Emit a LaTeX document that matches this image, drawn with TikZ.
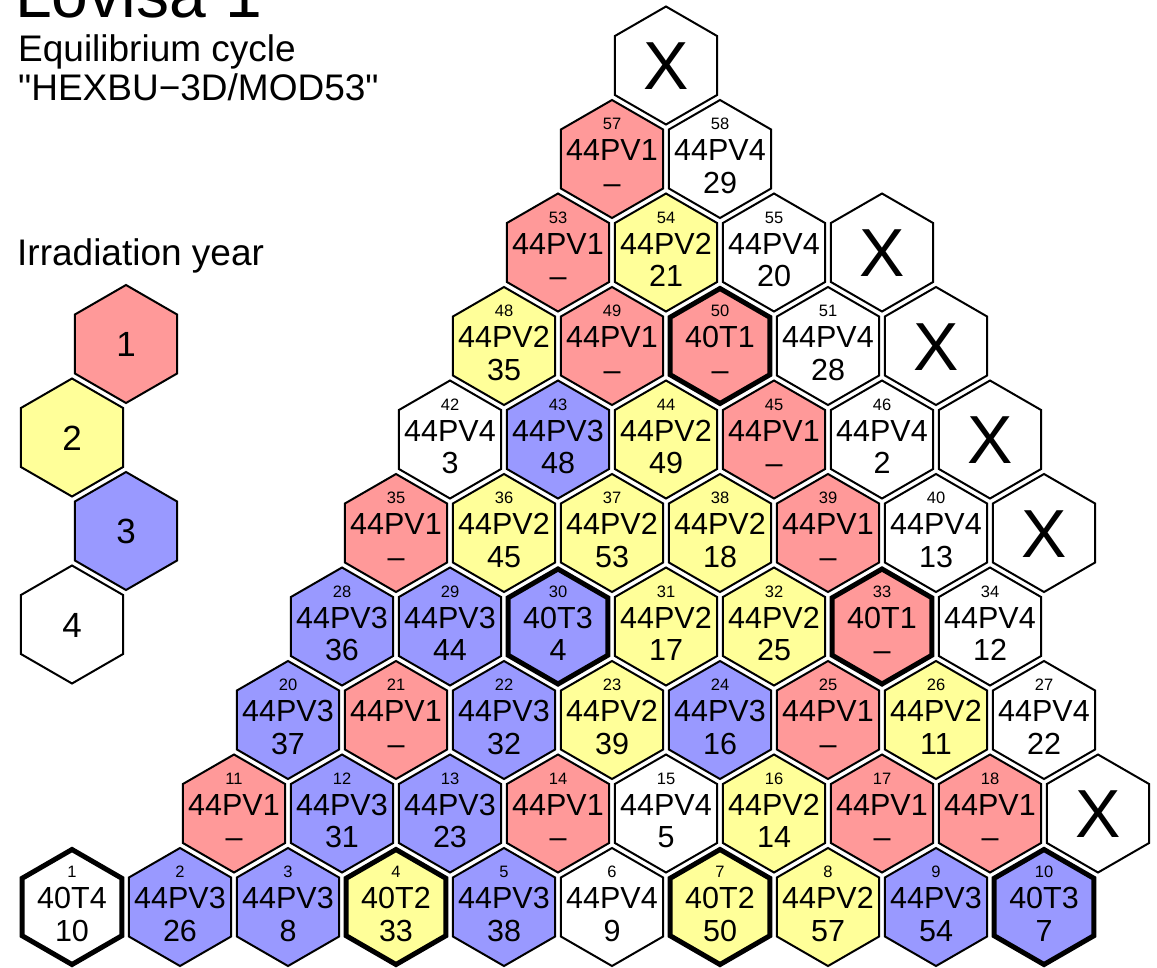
\documentclass[tikz,border=0pt]{standalone}
\usepackage{fontspec}
\setmainfont{Liberation Sans}
\newfontfamily\rawsans{Liberation Sans}
\definecolor{yrone}{HTML}{FF9999}
\definecolor{yrtwo}{HTML}{FFFF99}
\definecolor{yrthree}{HTML}{9999FF}
\definecolor{yrfour}{HTML}{FFFFFF}
\tikzset{
  hexthin/.style={draw=black, line width=2pt, line join=miter},
  hexthick/.style={draw=black, line width=5pt, line join=miter},
  numlbl/.style={font=\fontsize{16.5}{16.5}\selectfont, inner sep=0pt, anchor=base},
  typelbl/.style={font=\fontsize{30.5}{30.5}\selectfont, inner sep=0pt, anchor=base},
  xlbl/.style={font=\fontsize{68}{68}\selectfont, inner sep=0pt, anchor=base},
  leglbl/.style={font=\fontsize{35}{35}\selectfont, inner sep=0pt, anchor=base},
  headlbl/.style={font=\fontsize{37}{37}\selectfont, inner sep=0pt, anchor=base west},
  titlelbl/.style={font=\fontsize{66}{66}\selectfont, inner sep=0pt, anchor=base west},
}
% hexagon outline: x, y, fill, style, radius
\newcommand\hexpath[5]{%
  \filldraw[#4, fill=#3, shift={(#1,#2)}] (90:#5) -- (30:#5) -- (-30:#5) -- (-90:#5) -- (-150:#5) -- (150:#5) -- cycle;}
% fuel cell: name, x, row, colour, thin/thick, number, type, value
\newcommand\fuelcell[8]{%
  \pgfmathsetmacro\cy{907-93.5*#3}%
  \ifx#5t\hexpath{#2}{\cy}{#4}{hexthick}{57.5}\else\hexpath{#2}{\cy}{#4}{hexthin}{59}\fi
  \node[numlbl] (#1n) at (#2,\cy-29.3) {#6};
  \node[typelbl] (#1t) at (#2,\cy+1.7) {#7};
  \node[typelbl] (#1v) at (#2,\cy+34) {#8};}
% empty position: name, x, row
\newcommand\emptycell[3]{%
  \pgfmathsetmacro\cy{907-93.5*#3}%
  \hexpath{#2}{\cy}{yrfour}{hexthin}{59}
  \node[xlbl] (#1) at (#2,\cy+24.3) {X};}
% legend cell: name, x, y, colour, text
\newcommand\legcell[5]{%
  \hexpath{#2}{#3}{#4}{hexthin}{59}
  \node[leglbl] (#1) at (#2,#3+12.6) {#5};}
\begin{document}
\begin{tikzpicture}[x=1pt,y=-1pt]
\useasboundingbox (0,0) rectangle (1157,967);
\clip (0,0) rectangle (1157,967);
\fill[white] (0,0) rectangle (1157,967);
% titles
\node[titlelbl] (title) at (15,17) {Lovisa\hspace{20pt}1};
\node[headlbl] (sub1) at (18,61) {Equilibrium cycle};
\node[headlbl] (sub2) at (18,100) {\rawsans "HEXBU−3D/MOD53"};
\node[headlbl] (legtitle) at (17,265) {Irradiation year};
% legend
\legcell{leg1}{126}{344}{yrone}{1}
\legcell{leg2}{72}{437.5}{yrtwo}{2}
\legcell{leg3}{126}{531}{yrthree}{3}
\legcell{leg4}{72}{624.5}{yrfour}{4}
% row 0
\fuelcell{c1}{72}{0}{yrfour}{t}{1}{40T4}{10}
\fuelcell{c2}{180}{0}{yrthree}{n}{2}{44PV3}{26}
\fuelcell{c3}{288}{0}{yrthree}{n}{3}{44PV3}{8}
\fuelcell{c4}{396}{0}{yrtwo}{t}{4}{40T2}{33}
\fuelcell{c5}{504}{0}{yrthree}{n}{5}{44PV3}{38}
\fuelcell{c6}{612}{0}{yrfour}{n}{6}{44PV4}{9}
\fuelcell{c7}{720}{0}{yrtwo}{t}{7}{40T2}{50}
\fuelcell{c8}{828}{0}{yrtwo}{n}{8}{44PV2}{57}
\fuelcell{c9}{936}{0}{yrthree}{n}{9}{44PV3}{54}
\fuelcell{c10}{1044}{0}{yrthree}{t}{10}{40T3}{7}
% row 1
\fuelcell{c11}{234}{1}{yrone}{n}{11}{44PV1}{–}
\fuelcell{c12}{342}{1}{yrthree}{n}{12}{44PV3}{31}
\fuelcell{c13}{450}{1}{yrthree}{n}{13}{44PV3}{23}
\fuelcell{c14}{558}{1}{yrone}{n}{14}{44PV1}{–}
\fuelcell{c15}{666}{1}{yrfour}{n}{15}{44PV4}{5}
\fuelcell{c16}{774}{1}{yrtwo}{n}{16}{44PV2}{14}
\fuelcell{c17}{882}{1}{yrone}{n}{17}{44PV1}{–}
\fuelcell{c18}{990}{1}{yrone}{n}{18}{44PV1}{–}
\emptycell{xa}{1098}{1}
% row 2
\fuelcell{c20}{288}{2}{yrthree}{n}{20}{44PV3}{37}
\fuelcell{c21}{396}{2}{yrone}{n}{21}{44PV1}{–}
\fuelcell{c22}{504}{2}{yrthree}{n}{22}{44PV3}{32}
\fuelcell{c23}{612}{2}{yrtwo}{n}{23}{44PV2}{39}
\fuelcell{c24}{720}{2}{yrthree}{n}{24}{44PV3}{16}
\fuelcell{c25}{828}{2}{yrone}{n}{25}{44PV1}{–}
\fuelcell{c26}{936}{2}{yrtwo}{n}{26}{44PV2}{11}
\fuelcell{c27}{1044}{2}{yrfour}{n}{27}{44PV4}{22}
% row 3
\fuelcell{c28}{342}{3}{yrthree}{n}{28}{44PV3}{36}
\fuelcell{c29}{450}{3}{yrthree}{n}{29}{44PV3}{44}
\fuelcell{c30}{558}{3}{yrthree}{t}{30}{40T3}{4}
\fuelcell{c31}{666}{3}{yrtwo}{n}{31}{44PV2}{17}
\fuelcell{c32}{774}{3}{yrtwo}{n}{32}{44PV2}{25}
\fuelcell{c33}{882}{3}{yrone}{t}{33}{40T1}{–}
\fuelcell{c34}{990}{3}{yrfour}{n}{34}{44PV4}{12}
% row 4
\fuelcell{c35}{396}{4}{yrone}{n}{35}{44PV1}{–}
\fuelcell{c36}{504}{4}{yrtwo}{n}{36}{44PV2}{45}
\fuelcell{c37}{612}{4}{yrtwo}{n}{37}{44PV2}{53}
\fuelcell{c38}{720}{4}{yrtwo}{n}{38}{44PV2}{18}
\fuelcell{c39}{828}{4}{yrone}{n}{39}{44PV1}{–}
\fuelcell{c40}{936}{4}{yrfour}{n}{40}{44PV4}{13}
\emptycell{xb}{1044}{4}
% row 5
\fuelcell{c42}{450}{5}{yrfour}{n}{42}{44PV4}{3}
\fuelcell{c43}{558}{5}{yrthree}{n}{43}{44PV3}{48}
\fuelcell{c44}{666}{5}{yrtwo}{n}{44}{44PV2}{49}
\fuelcell{c45}{774}{5}{yrone}{n}{45}{44PV1}{–}
\fuelcell{c46}{882}{5}{yrfour}{n}{46}{44PV4}{2}
\emptycell{xc}{990}{5}
% row 6
\fuelcell{c48}{504}{6}{yrtwo}{n}{48}{44PV2}{35}
\fuelcell{c49}{612}{6}{yrone}{n}{49}{44PV1}{–}
\fuelcell{c50}{720}{6}{yrone}{t}{50}{40T1}{–}
\fuelcell{c51}{828}{6}{yrfour}{n}{51}{44PV4}{28}
\emptycell{xd}{936}{6}
% row 7
\fuelcell{c53}{558}{7}{yrone}{n}{53}{44PV1}{–}
\fuelcell{c54}{666}{7}{yrtwo}{n}{54}{44PV2}{21}
\fuelcell{c55}{774}{7}{yrfour}{n}{55}{44PV4}{20}
\emptycell{xe}{882}{7}
% row 8
\fuelcell{c57}{612}{8}{yrone}{n}{57}{44PV1}{–}
\fuelcell{c58}{720}{8}{yrfour}{n}{58}{44PV4}{29}
% row 9
\emptycell{xf}{666}{9}
\end{tikzpicture}
\end{document}
